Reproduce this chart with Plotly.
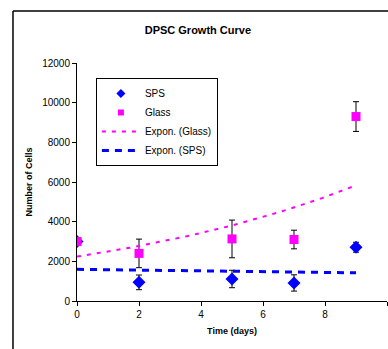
import numpy as np
import plotly.graph_objects as go

days = [0, 2, 5, 7, 9]
glass = [3000, 2400, 3130, 3100, 9300]
glass_err = [0, 720, 950, 470, 750]
sps = [3000, 940, 1110, 910, 2710]
sps_err = [0, 370, 440, 410, 250]

def expon_fit(x, y):
    b, a = np.polyfit(x, np.log(y), 1)
    xs = np.linspace(min(x), max(x), 50)
    return xs, np.exp(a) * np.exp(b * xs)

font = "Liberation Sans, Arial, sans-serif"

fig = go.Figure()
fig.add_trace(go.Scatter(x=days, y=sps, mode='markers', name='SPS', showlegend=False,
                         marker=dict(symbol='diamond', size=10, color='#0000ff'),
                         error_y=dict(type='data', array=sps_err, color='black', thickness=1, width=3)))
fig.add_trace(go.Scatter(x=days, y=glass, mode='markers', name='Glass', showlegend=False,
                         marker=dict(symbol='square', size=9, color='#ff00ff'),
                         error_y=dict(type='data', array=glass_err, color='black', thickness=1, width=3)))

# legend-only entries with the smaller Excel-style legend markers
fig.add_trace(go.Scatter(x=[None], y=[None], mode='markers', name='SPS',
                         marker=dict(symbol='diamond', size=7, color='#0000ff')))
fig.add_trace(go.Scatter(x=[None], y=[None], mode='markers', name='Glass',
                         marker=dict(symbol='square', size=6, color='#ff00ff')))

gx, gy = expon_fit(days, glass)
sx, sy = expon_fit(days, sps)
fig.add_trace(go.Scatter(x=gx, y=gy, mode='lines', name='Expon. (Glass)',
                         line=dict(color='#ff00ff', width=2, dash='4px,6px')))
fig.add_trace(go.Scatter(x=sx, y=sy, mode='lines', name='Expon. (SPS)',
                         line=dict(color='#0000ff', width=3, dash='7px,6px')))

# outer chart border: only the left and top edges fall inside the window
fig.add_shape(type='line', xref='paper', yref='paper', x0=-0.2065, y0=-0.3, x1=-0.2065, y1=1.2185,
              line=dict(color='black', width=1.5), layer='below')
fig.add_shape(type='line', xref='paper', yref='paper', x0=-0.2065, y0=1.2185, x1=1.1, y1=1.2185,
              line=dict(color='black', width=1.5), layer='below')

fig.update_layout(
    width=388, height=349,
    margin=dict(l=77, r=1, t=63, b=48),
    paper_bgcolor='white', plot_bgcolor='white',
    font=dict(family=font, size=10, color='black'),
    title=dict(text='<b>DPSC Growth Curve</b>', x=0.51, xanchor='center', y=0.914, yanchor='middle',
               font=dict(size=11, family=font)),
    xaxis=dict(range=[0, 10], dtick=2, showgrid=False, zeroline=False, showline=True, automargin=False,
               linecolor='black', linewidth=1, ticks='outside', ticklen=4, tickcolor='black',
               title=dict(text='<b>Time (days)</b>', font=dict(size=9), standoff=8)),
    yaxis=dict(range=[0, 12000], dtick=2000, tickformat='d', showgrid=False, zeroline=False,
               showline=True, automargin=False,
               linecolor='black', linewidth=1, ticks='outside', ticklen=4, tickcolor='black',
               title=dict(text='<b>Number of Cells</b>', font=dict(size=9), standoff=8)),
    legend=dict(x=0.061, y=0.937, xanchor='left', yanchor='top', bgcolor='white',
                bordercolor='black', borderwidth=1, font=dict(size=10), tracegroupgap=0,
                itemwidth=38),
    showlegend=True,
)

# drop the default page margin so the figure fills the window exactly
fig.write_html("out.html", config={'displayModeBar': False},
               post_script="document.body.style.margin='0';document.body.style.overflow='hidden';"
                           "document.documentElement.style.overflow='hidden';")
